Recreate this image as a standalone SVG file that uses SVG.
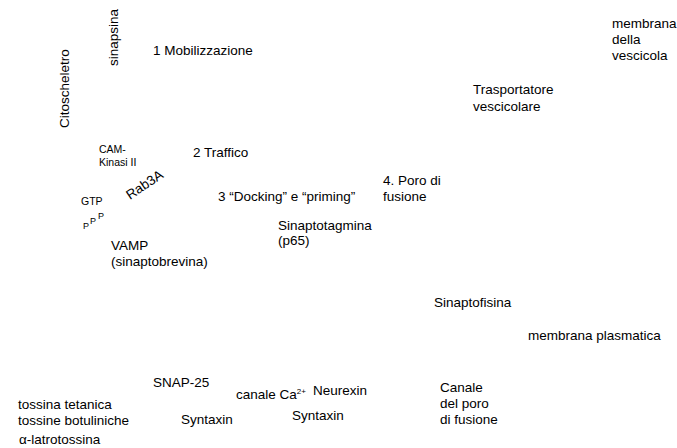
<svg xmlns="http://www.w3.org/2000/svg" width="677" height="448" viewBox="0 0 677 448">
<style>
text{font-family:"Comic Sans MS","Liberation Sans",sans-serif;font-size:13.5px;fill:#000}
.s{font-size:10.5px}
.xs{font-size:9px}
</style>
<rect width="677" height="448" fill="#fff"/>
<g id="citoscheletro"><text transform="translate(69,128) rotate(-90)">Citoscheletro</text></g>
<g id="sinapsina"><text transform="translate(118,66) rotate(-90)">sinapsina</text></g>
<g id="mobilizzazione"><text x="153" y="55">1 Mobilizzazione</text></g>
<g id="membrana-vescicola"><text x="612" y="28">membrana</text><text x="612" y="44">della</text><text x="612" y="60">vescicola</text></g>
<g id="trasportatore"><text x="473" y="94">Trasportatore</text><text x="473" y="111">vescicolare</text></g>
<g id="camkinasi"><text class="s" x="99" y="153">CAM-</text><text class="s" x="99" y="166">Kinasi II</text></g>
<g id="traffico"><text x="193" y="157">2 Traffico</text></g>
<g id="rab3a"><text transform="translate(130,200) rotate(-34)">Rab3A</text></g>
<g id="gtp"><text class="s" x="81" y="205">GTP</text><text class="xs" x="83" y="229">P</text><text class="xs" x="90" y="224">P</text><text class="xs" x="98" y="219">P</text></g>
<g id="docking"><text x="218" y="201">3 “Docking” e “priming”</text></g>
<g id="poro"><text x="383" y="185">4. Poro di</text><text x="383" y="201">fusione</text></g>
<g id="sinaptotagmina"><text x="278" y="230">Sinaptotagmina</text><text x="278" y="245">(p65)</text></g>
<g id="vamp"><text x="111" y="250">VAMP</text><text x="111" y="266">(sinaptobrevina)</text></g>
<g id="sinaptofisina"><text x="434" y="307">Sinaptofisina</text></g>
<g id="membrana-plasmatica"><text x="528" y="340">membrana plasmatica</text></g>
<g id="snap25"><text x="153" y="387">SNAP-25</text></g>
<g id="canale-ca"><text x="236" y="399">canale Ca<tspan font-size="8" dy="-5">2+</tspan></text></g>
<g id="neurexin"><text x="313" y="395">Neurexin</text></g>
<g id="syntaxin1"><text x="181" y="424">Syntaxin</text></g>
<g id="syntaxin2"><text x="292" y="420">Syntaxin</text></g>
<g id="tossine"><text x="18" y="409">tossina tetanica</text><text x="18" y="425">tossine botuliniche</text><text x="19" y="444">α-latrotossina</text></g>
<g id="canale-poro"><text x="440" y="392">Canale</text><text x="440" y="408">del poro</text><text x="440" y="424">di fusione</text></g>
</svg>
